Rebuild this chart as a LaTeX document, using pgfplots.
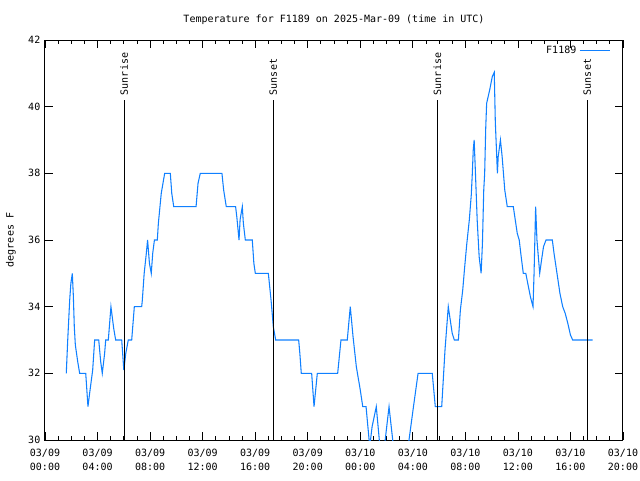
\documentclass[border=0pt]{standalone}
\usepackage{pgfplots}
\pgfplotsset{compat=1.18}
\usepackage{fontspec}
\setmainfont{DejaVu Sans Mono}
\definecolor{tblue}{RGB}{16,128,255}
\newcommand{\gf}{\fontsize{7.5}{10.5}\selectfont}
\begin{document}
\begin{tikzpicture}
\path[use as bounding box] (-33.75pt,-30pt) rectangle (446.25pt,330pt);
\begin{axis}[
  scale only axis, width=433.5pt, height=300pt,
  at={(0,0)}, anchor=south west,
  xmin=0, xmax=44, ymin=30, ymax=42,
  xtick={0,4,...,44},
  xticklabels={{03/09\\00:00},{03/09\\04:00},{03/09\\08:00},{03/09\\12:00},{03/09\\16:00},{03/09\\20:00},{03/10\\00:00},{03/10\\04:00},{03/10\\08:00},{03/10\\12:00},{03/10\\16:00},{03/10\\20:00}},
  minor x tick num=3,
  ytick={30,32,...,42},
  tick align=inside,
  major tick length=6pt, minor tick length=3pt,
  axis line style={line width=0.75pt},
  every tick/.style={line width=0.6pt, black},
  /pgf/number format/assume math mode=true,
  xticklabel style={align=center, font=\gf, yshift=-3.5pt},
  yticklabel style={font=\gf},
  title={Temperature for F1189 on 2025-Mar-09 (time in UTC)},
  title style={font=\gf, at={(0.5,1)}, anchor=center, yshift=9.5pt},
  ylabel={degrees F},
  ylabel style={font=\gf, at={(axis description cs:-0.059,0.5)}, anchor=center},
  legend style={at={(1,1)}, anchor=north east, draw=none, fill=none, font=\gf, inner sep=1pt, xshift=-8pt, yshift=-1pt},
  legend plot pos=right,
  legend image code/.code={\draw[#1] (0pt,0pt) -- (23pt,0pt);},
  clip=true,
]
\addplot[tblue, line width=0.8pt] coordinates {
(1.62,32) (1.73,33) (1.88,34.2) (1.97,34.7) (2.08,35) (2.16,34.3) (2.23,33.4) (2.31,32.85) (2.49,32.35) (2.64,32)
(3.10,32) (3.27,31) (3.43,31.5) (3.63,32.1) (3.78,33) (4.09,33) (4.24,32.35) (4.36,32) (4.54,32.6) (4.62,33)
(4.82,33) (5.02,34) (5.23,33.35) (5.38,33) (5.84,33) (6.0,32.1) (6.15,32.6) (6.34,33) (6.6,33) (6.8,34) (7.36,34)
(7.41,34.2) (7.55,35.0) (7.70,35.55) (7.81,36) (7.95,35.3) (8.09,35) (8.2,35.6) (8.33,36) (8.55,36) (8.63,36.5)
(8.85,37.4) (9.11,38) (9.54,38) (9.65,37.4) (9.8,37) (11.5,37) (11.65,37.7) (11.82,38) (13.47,38) (13.6,37.5)
(13.8,37) (14.51,37) (14.6,36.7) (14.77,36) (14.85,36.6) (15.02,37) (15.1,36.5) (15.25,36) (15.78,36) (15.9,35.3)
(16.01,35) (17.0,35) (17.08,34.7) (17.22,34.15) (17.38,33.4) (17.56,33) (19.31,33) (19.4,32.6) (19.51,32)
(20.3,32) (20.48,31) (20.73,32) (22.28,32) (22.53,33) (23.01,33) (23.24,34) (23.45,33.1) (23.7,32.2) (24.0,31.5)
(24.19,31) (24.44,31) (24.72,29.8) (24.9,30.4) (25.22,31) (25.45,30) (25.55,29.5) (25.75,29.5) (26.19,31)
(26.47,30) (26.55,29.5) (27.65,29.5) (27.71,30) (28.05,31) (28.4,32) (29.48,32) (29.71,31) (30.2,31) (30.45,32.7)
(30.7,34) (30.85,33.6) (31.0,33.2) (31.16,33) (31.47,33) (31.62,33.9) (31.8,34.5) (31.95,35.2) (32.1,35.85)
(32.3,36.6) (32.45,37.35) (32.53,38) (32.6,38.7) (32.67,39) (32.75,38.2) (32.9,36.6) (33.05,35.5) (33.2,35)
(33.3,35.9) (33.4,37.5) (33.47,38) (33.55,39.35) (33.62,40.1) (33.85,40.5) (34.05,40.9) (34.2,41.03) (34.28,39.55)
(34.44,38) (34.5,38.5) (34.67,39) (34.8,38.5) (35.0,37.5) (35.19,37) (35.65,37) (35.8,36.6) (35.95,36.2) (36.1,36)
(36.25,35.5) (36.41,35) (36.6,35) (36.75,34.7) (36.95,34.3) (37.15,34) (37.23,35) (37.35,37) (37.45,36) (37.66,35)
(37.8,35.4) (37.95,35.8) (38.14,36) (38.62,36) (38.75,35.6) (38.9,35.2) (39.05,34.8) (39.2,34.4) (39.41,34)
(39.6,33.8) (39.8,33.5) (40.0,33.15) (40.17,33) (41.69,33)
};
\addlegendentry{F1189}
\addplot[black, line width=0.8pt, forget plot] coordinates {(6.03,30) (6.03,40.2)};
\addplot[black, line width=0.8pt, forget plot] coordinates {(17.38,30) (17.38,40.2)};
\addplot[black, line width=0.8pt, forget plot] coordinates {(29.87,30) (29.87,40.2)};
\addplot[black, line width=0.8pt, forget plot] coordinates {(41.28,30) (41.28,40.2)};
\node[rotate=90, anchor=west, font=\gf, inner sep=1pt] at (axis cs:6.03,40.3) {Sunrise};
\node[rotate=90, anchor=west, font=\gf, inner sep=1pt] at (axis cs:17.38,40.3) {Sunset};
\node[rotate=90, anchor=west, font=\gf, inner sep=1pt] at (axis cs:29.87,40.3) {Sunrise};
\node[rotate=90, anchor=west, font=\gf, inner sep=1pt] at (axis cs:41.28,40.3) {Sunset};
\end{axis}
\end{tikzpicture}
\end{document}
